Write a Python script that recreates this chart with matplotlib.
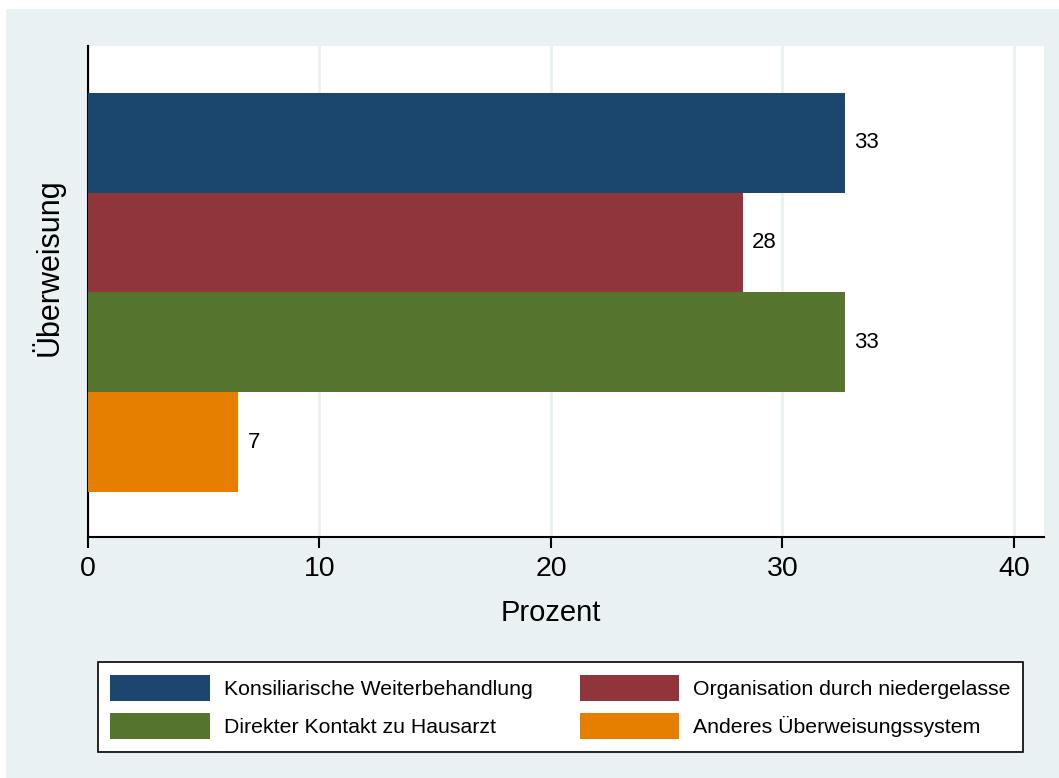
import numpy as np
import matplotlib
matplotlib.use("Agg")
import matplotlib.pyplot as plt
from matplotlib.patches import Rectangle, Patch

plt.rcParams['font.family'] = ['Liberation Sans', 'DejaVu Sans']

categories = ['Konsiliarische Weiterbehandlung', 'Organisation durch niedergelasse',
              'Direkter Kontakt zu Hausarzt', 'Anderes Überweisungssystem']
values = [32.7, 28.3, 32.7, 6.5]
colors = ['#1B476F', '#90353B', '#55752F', '#E67E00']
xticks = [0, 10, 20, 30, 40]

bg = '#EAF1F3'

fig = plt.figure(figsize=[10.59, 7.78], dpi=100)
fig.patch.set_facecolor('white')
fig.patches.append(Rectangle((6/1059, 0), 1 - 6/1059, 1 - 9/778, transform=fig.transFigure,
                             facecolor=bg, edgecolor='none', zorder=-10))

ax = fig.add_axes([88/1059, 1 - 537/778, (1044 - 88)/1059, (537 - 46)/778])
ax.set_facecolor('white')

ypos = np.arange(len(values))
ax.barh(ypos, values, height=1.0, color=colors, edgecolor='none', zorder=3)
for y, v in zip(ypos, values):
    ax.text(v + 0.4, y, str(int(v + 0.5)), va='center', ha='left', fontsize=16, zorder=4)

ax.set_xlim(0, 41.3)
ax.set_ylim(3.95, -0.97)
ax.set_xticks(xticks)
ax.set_yticks([])
ax.grid(axis='x', color='#EAF1F3', linewidth=2, zorder=0)
ax.tick_params(axis='x', labelsize=20.5, length=8, width=1.5, pad=6)
for s in ['top', 'right']:
    ax.spines[s].set_visible(False)
for s in ['left', 'bottom']:
    ax.spines[s].set_linewidth(1.5)

ax.set_xlabel('Prozent', fontsize=21)
ax.xaxis.set_label_coords(0.484, -0.126)
ax.set_ylabel('Überweisung', fontsize=22)
ax.yaxis.set_label_coords(-0.0245, 0.55)

handles = [Patch(facecolor=c, edgecolor='none', label=l) for c, l in zip(colors, categories)]
order = [0, 2, 1, 3]
leg = fig.legend([handles[i] for i in order], [categories[i] for i in order],
                 ncol=2, loc='center', bbox_to_anchor=((92 + 1029)/2/1059, 1 - 707/778),
                 fontsize=15.3, frameon=True, fancybox=False, shadow=False, framealpha=1,
                 handlelength=4.7, handleheight=1.5, handletextpad=0.65,
                 columnspacing=2.2, labelspacing=0.55, borderpad=0.6)
leg.get_frame().set_edgecolor('black')
leg.get_frame().set_linewidth(1.2)

fig.savefig('out.png', dpi=100, facecolor=fig.get_facecolor())
